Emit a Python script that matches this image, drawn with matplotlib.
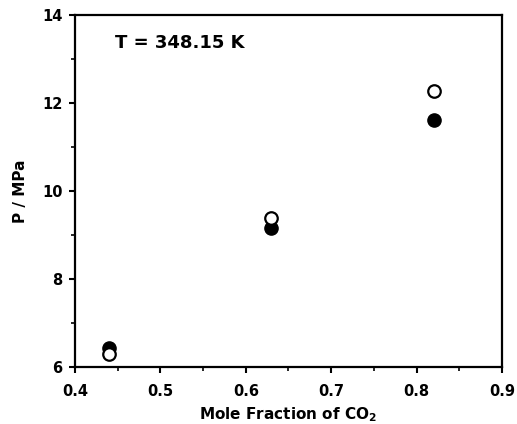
import matplotlib
matplotlib.use("Agg")
import matplotlib.pyplot as plt
from matplotlib.ticker import MultipleLocator

# Data
x_co2 = [0.44, 0.63, 0.82]
p_open = [6.30, 9.38, 12.28]
p_filled = [6.43, 9.17, 11.62]

plt.rcParams["font.family"] = ["DejaVu Sans"]
plt.rcParams["font.weight"] = "bold"
plt.rcParams["mathtext.default"] = "bf"

fig = plt.figure(figsize=(5.17, 4.24), dpi=100)
ax = fig.add_axes([0.145, 0.134, 0.826, 0.831])

ax.plot(x_co2, p_filled, "o", color="black", markersize=9.5, zorder=3)
ax.plot(x_co2, p_open, "o", markerfacecolor="white", markeredgecolor="black",
        markeredgewidth=1.6, markersize=9, zorder=4)

ax.set_xlim(0.4, 0.9)
ax.set_ylim(6, 14)
ax.xaxis.set_major_locator(MultipleLocator(0.1))
ax.xaxis.set_minor_locator(MultipleLocator(0.05))
ax.yaxis.set_major_locator(MultipleLocator(2))
ax.yaxis.set_minor_locator(MultipleLocator(1))
ax.tick_params(which="major", direction="out", length=4, width=1.5, labelsize=10.5)
ax.tick_params(which="minor", direction="out", length=3, width=1.2)
ax.tick_params(axis="x", which="major", pad=8)
ax.tick_params(axis="y", which="major", pad=5)
ax.set_xticklabels([f"{v:.1f}" for v in ax.get_xticks()])

for spine in ax.spines.values():
    spine.set_linewidth(1.6)

ax.set_xlabel("Mole Fraction of CO$_2$", fontsize=11, fontweight="bold", labelpad=5)
ax.set_ylabel("P / MPa", fontsize=11, fontweight="bold", labelpad=10)
ax.text(0.094, 0.92, "T = 348.15 K", transform=ax.transAxes, fontsize=13,
        fontweight="bold", va="center")

fig.savefig("out.png", dpi=100)
